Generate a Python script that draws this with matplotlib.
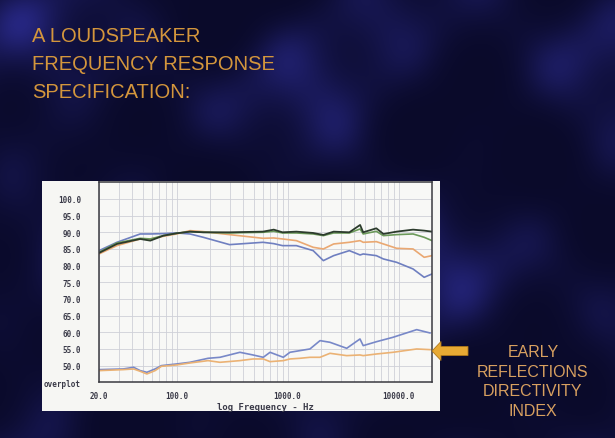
import numpy as np
import matplotlib
matplotlib.use('Agg')
import matplotlib.pyplot as plt
from matplotlib.patches import Rectangle, Polygon
from matplotlib.ticker import FixedLocator, LogLocator, NullFormatter

# frequency response curves (dB)
freq_resp = [20, 29, 47, 58, 76, 100, 132, 174, 300, 600, 750, 900, 1200, 1700,
             2100, 2600, 3600, 4500, 4800, 6300, 7300, 9600, 13500, 17000, 20000]
on_axis = [83.8, 86.5, 88.0, 87.5, 89.0, 89.7, 90.2, 90.0, 90.0, 90.2, 90.8, 90.0, 90.2,
           89.8, 89.2, 90.2, 90.0, 92.2, 90.0, 91.2, 89.5, 90.2, 90.8, 90.5, 90.2]
listening_window = [84.0, 86.8, 88.2, 88.0, 89.0, 89.7, 90.2, 90.0, 89.8, 90.0, 90.3, 89.8, 89.8,
                    89.5, 89.0, 89.8, 89.8, 91.0, 89.5, 90.3, 89.0, 89.3, 89.5, 88.5, 87.5]
early_reflections = [83.5, 86.0, 88.0, 88.0, 88.8, 89.5, 90.5, 90.2, 89.3, 88.2, 88.3, 88.0, 87.5,
                     85.5, 85.0, 86.5, 87.0, 87.5, 87.0, 87.2, 86.5, 85.2, 85.0, 82.5, 83.0]
sound_power = [84.5, 87.0, 89.5, 89.5, 89.6, 89.8, 89.5, 88.5, 86.3, 87.0, 86.6, 86.0, 86.0,
               84.5, 81.5, 83.0, 84.5, 83.2, 83.5, 83.0, 82.0, 81.0, 79.0, 76.5, 77.5]

# directivity index curves
freq_di = [20, 33, 41, 47, 54, 64, 73, 100, 132, 192, 246, 372, 488, 604, 695, 915, 1050,
           1290, 1590, 1960, 2410, 3410, 4490, 4800, 6350, 8900, 14560, 19180]
sp_di = [48.8, 49.0, 49.5, 48.5, 48.0, 49.0, 50.0, 50.5, 51.0, 52.2, 52.5, 54.0, 53.2, 52.5,
         54.0, 52.5, 54.0, 54.5, 55.0, 57.5, 57.0, 55.2, 58.0, 56.0, 57.2, 58.5, 60.8, 59.8]
er_di = [48.5, 48.8, 49.0, 48.3, 47.5, 48.5, 49.8, 50.2, 50.8, 51.5, 51.0, 51.5, 52.0, 52.0,
         51.2, 51.5, 52.0, 52.2, 52.5, 52.5, 53.7, 53.0, 53.2, 53.0, 53.5, 54.0, 55.0, 54.8]

ytick_vals = [45, 50, 55, 60, 65, 70, 75, 80, 85, 90, 95, 100]
ytick_labels = ['overplot'] + ['%.1f' % v for v in ytick_vals[1:]]
xtick_vals = [20, 100, 1000, 10000]
xtick_labels = ['20.0', '100.0', '1000.0', '10000.0']

W, H = 615, 439
fig = plt.figure(figsize=(W / 100, H / 100), dpi=100)

# dark blue mottled slide background
bg = fig.add_axes([0, 0, 1, 1])
bg.set_zorder(-5)
yy, xx = np.mgrid[0:H, 0:W] / 100.0
cloud = (np.sin(xx * 2.1 + 1.5 * np.sin(yy * 1.7)) + np.sin(yy * 2.6 + 1.2 * np.cos(xx * 1.3))
         + 0.6 * np.sin((xx + yy) * 4.3) + 0.5 * np.cos(xx * 5.1 - yy * 3.7))
cloud = (cloud - cloud.min()) / (cloud.max() - cloud.min())
cloud = cloud ** 3
base = np.array([10, 10, 42]) / 255
light = np.array([38, 38, 128]) / 255
img = base + cloud[..., None] * (light - base)
bg.imshow(img, extent=[0, 1, 0, 1], aspect='auto', interpolation='bilinear')
bg.axis('off')

# white chart panel
fig.add_artist(Rectangle((42 / W, 1 - 412 / H), (440 - 42) / W, (412 - 182) / H,
                         transform=fig.transFigure, facecolor='#f6f6f3', edgecolor='none', zorder=1))

ax = fig.add_axes([99 / W, 1 - 383.3 / H, (432 - 99) / W, (383.3 - 183.3) / H])
ax.set_zorder(3)
ax.set_facecolor('#f8f8f6')
ax.set_xscale('log')
ax.set_xlim(20, 20000)
ax.set_ylim(45, 105)

ax.xaxis.set_major_locator(FixedLocator(xtick_vals))
ax.xaxis.set_minor_locator(LogLocator(base=10, subs=np.arange(2, 10)))
ax.xaxis.set_minor_formatter(NullFormatter())
ax.set_xticklabels(xtick_labels)
ax.set_yticks(ytick_vals)
ax.set_yticklabels(ytick_labels)
ax.grid(True, which='both', axis='x', color='#cfd0d8', lw=0.6)
ax.grid(True, which='major', axis='y', color='#cfd0d8', lw=0.6)
ax.tick_params(which='both', length=0)
ax.tick_params(axis='y', pad=13)
ax.tick_params(axis='x', pad=6)
for lab in ax.get_xticklabels() + ax.get_yticklabels():
    lab.set_fontfamily('DejaVu Sans Mono')
    lab.set_fontweight('bold')
    lab.set_fontsize(5.5)
    lab.set_color('#3a3a48')
for s in ax.spines.values():
    s.set_color('#3a3a40')
    s.set_linewidth(1.1)

ax.plot(freq_resp, sound_power, color='#6f7fc0', lw=1.2)
ax.plot(freq_resp, early_reflections, color='#eaa872', lw=1.2)
ax.plot(freq_resp, listening_window, color='#6c9a5a', lw=1.2)
ax.plot(freq_resp, on_axis, color='#2c3b2c', lw=1.3)
ax.plot(freq_di, sp_di, color='#7888c8', lw=1.2)
ax.plot(freq_di, er_di, color='#ebb274', lw=1.2)

ax.set_xlabel('log Frequency - Hz', fontfamily='DejaVu Sans Mono', fontweight='bold',
              fontsize=6.5, color='#3a3a48', labelpad=2)

# slide text
gold = '#d4963c'
fig.text(32 / W, 1 - 27 / H, 'A LOUDSPEAKER\nFREQUENCY RESPONSE\nSPECIFICATION:',
         ha='left', va='top', fontsize=14.5, family='Liberation Sans', color=gold, linespacing=1.6)
fig.text(533 / W, 1 - 345 / H, 'EARLY\nREFLECTIONS\nDIRECTIVITY\nINDEX',
         ha='center', va='top', fontsize=11.5, family='Liberation Sans', color='#d8a060',
         linespacing=1.38)

# arrow pointing at the early reflections DI curve
arrow_px = [(432, 352), (441, 342.5), (441, 347.5), (468, 347.5), (468, 356.5),
            (441, 356.5), (441, 361.5)]
arrow_in = [(x / 100, (H - y) / 100) for x, y in arrow_px]
fig.add_artist(Polygon(arrow_in, closed=True, transform=fig.dpi_scale_trans,
                       facecolor='#e8aa34', edgecolor='#b07818', lw=0.6, zorder=6))

fig.savefig('out.png', dpi=100)
